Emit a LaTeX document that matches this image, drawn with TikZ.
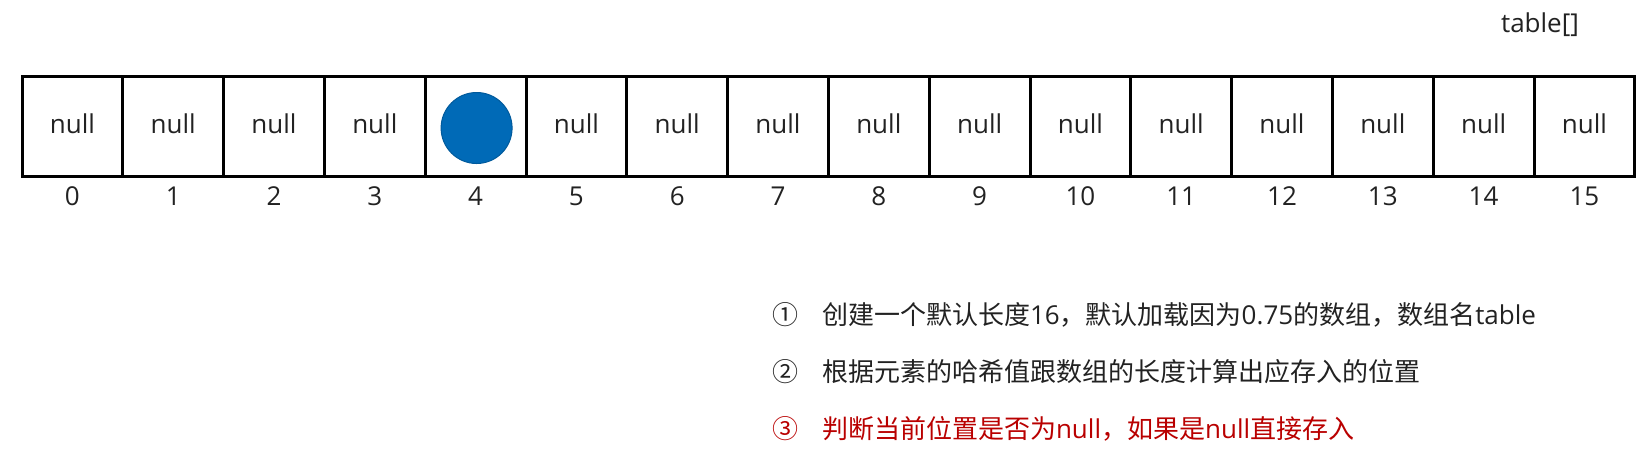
\documentclass[tikz,border=0pt]{standalone}
\usepackage{fontspec}
\setmainfont{Open Sans}
\newfontfamily\cjk{Noto Sans CJK SC}
\usetikzlibrary{positioning}
\definecolor{dotblue}{RGB}{0,106,183}
\definecolor{notered}{RGB}{185,0,0}
\definecolor{textgray}{RGB}{34,34,34}
\tikzset{
  cell/.style={draw, line width=3pt, minimum width=100.8pt, minimum height=100pt, inner sep=0pt, outer sep=0pt, text height=20pt, text depth=6pt, text=textgray},
  idx/.style={inner sep=0pt, outer sep=0pt, text=textgray},
  note/.style={inner sep=0pt, outer sep=0pt, text=textgray}
}

\begin{document}
\begin{tikzpicture}[x=1pt, y=-1pt, font=\fontsize{26}{31}\selectfont]
    \useasboundingbox (0,0) rectangle (1647,451);

    % the array
    \node[cell] (c0) at (72.4,126) {null};
    \node[cell, right=0pt of c0] (c1) {null};
    \node[cell, right=0pt of c1] (c2) {null};
    \node[cell, right=0pt of c2] (c3) {null};
    \node[cell, right=0pt of c3] (c4) {};
    \node[cell, right=0pt of c4] (c5) {null};
    \node[cell, right=0pt of c5] (c6) {null};
    \node[cell, right=0pt of c6] (c7) {null};
    \node[cell, right=0pt of c7] (c8) {null};
    \node[cell, right=0pt of c8] (c9) {null};
    \node[cell, right=0pt of c9] (c10) {null};
    \node[cell, right=0pt of c10] (c11) {null};
    \node[cell, right=0pt of c11] (c12) {null};
    \node[cell, right=0pt of c12] (c13) {null};
    \node[cell, right=0pt of c13] (c14) {null};
    \node[cell, right=0pt of c14] (c15) {null};
    \node[circle, fill=dotblue, draw=dotblue!85!black, line width=1pt, minimum size=71pt, inner sep=0pt] (elem) at ([xshift=1pt, yshift=-2pt]c4) {};

    \node[text=textgray] (name) at (1540,25) {table[]};

    % indices
    \node[idx, below=11pt of c0] (i0) {0};
    \node[idx, below=11pt of c1] (i1) {1};
    \node[idx, below=11pt of c2] (i2) {2};
    \node[idx, below=11pt of c3] (i3) {3};
    \node[idx, below=11pt of c4] (i4) {4};
    \node[idx, below=11pt of c5] (i5) {5};
    \node[idx, below=11pt of c6] (i6) {6};
    \node[idx, below=11pt of c7] (i7) {7};
    \node[idx, below=11pt of c8] (i8) {8};
    \node[idx, below=11pt of c9] (i9) {9};
    \node[idx, below=11pt of c10] (i10) {10};
    \node[idx, below=11pt of c11] (i11) {11};
    \node[idx, below=11pt of c12] (i12) {12};
    \node[idx, below=11pt of c13] (i13) {13};
    \node[idx, below=11pt of c14] (i14) {14};
    \node[idx, below=11pt of c15] (i15) {15};

    % steps
    \node[note] (m1) at (785,315) {\cjk ①};
    \node[note, right=24pt of m1] (t1) {{\cjk 创建一个默认长度}16{\cjk ，默认加载因为}0.75{\cjk 的数组，数组名}table};
    \node[note] (m2) at (785,372) {\cjk ②};
    \node[note, right=24pt of m2] (t2) {\cjk 根据元素的哈希值跟数组的长度计算出应存入的位置};
    \node[note, text=notered] (m3) at (785,429) {\cjk ③};
    \node[note, text=notered, right=24pt of m3] (t3) {{\cjk 判断当前位置是否为}null{\cjk ，如果是}null{\cjk 直接存入}};
\end{tikzpicture}
\end{document}
